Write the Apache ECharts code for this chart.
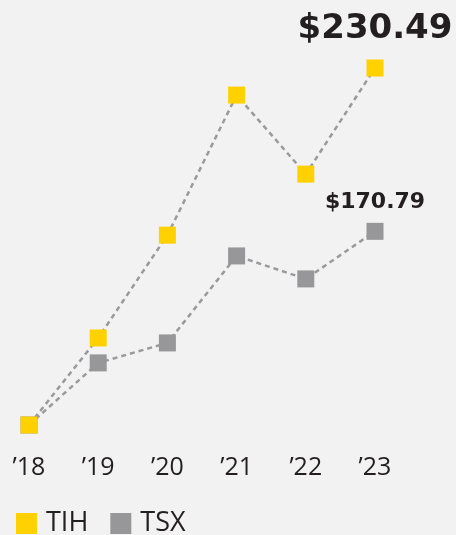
<!DOCTYPE html>
<html>
<head>
<meta charset="utf-8">
<script src="https://cdn.jsdelivr.net/npm/echarts@6/dist/echarts.min.js"></script>
<style>
  html, body { margin: 0; padding: 0; background: #f2f2f2; }
  #chart { width: 456px; height: 535px; }
</style>
</head>
<body>
<div id="chart"></div>
<script>
const years = ["’18", "’19", "’20", "’21", "’22", "’23"];
const tih = [100, 131.8, 169.4, 220.6, 191.7, 230.49];
const tsx = [100, 122.7, 130, 161.8, 153.4, 170.79];

const chart = echarts.init(document.getElementById('chart'));

const lastLabel = (size, dist) => ({
  show: true,
  position: 'top',
  distance: dist,
  fontFamily: 'DejaVu Sans',
  fontWeight: 'bold',
  fontSize: size,
  color: '#231f20',
  formatter: p => p.dataIndex === years.length - 1 ? '$' + p.value.toFixed(2) : ''
});

chart.setOption({
  backgroundColor: '#f2f2f2',
  animation: false,
  grid: { left: 29, right: 81, top: 42, bottom: 110 },
  legend: {
    left: 11, top: 505,
    itemWidth: 21, itemHeight: 21, itemGap: 22,
    icon: 'rect',
    textStyle: { fontFamily: 'Open Sans', fontSize: 27, color: '#231f20', padding: [0, 0, 0, 4] },
    data: ['TIH', 'TSX']
  },
  xAxis: {
    type: 'category',
    data: years,
    boundaryGap: false,
    axisLine: { show: false },
    axisTick: { show: false },
    axisLabel: { margin: 30, fontFamily: 'Open Sans', fontSize: 25, color: '#231f20' }
  },
  yAxis: {
    type: 'value',
    min: 100, max: 240,
    show: false,
    splitLine: { show: false }
  },
  series: [
    {
      name: 'TIH', type: 'line', data: tih,
      symbol: 'rect', symbolSize: 17,
      itemStyle: { color: '#ffd100' },
      lineStyle: { color: '#9a9a9c', width: 2.5, type: [5, 4] },
      label: lastLabel(34, 13),
      z: 3
    },
    {
      name: 'TSX', type: 'line', data: tsx,
      symbol: 'rect', symbolSize: 17,
      itemStyle: { color: '#97979a' },
      lineStyle: { color: '#9a9a9c', width: 2.5, type: [5, 4] },
      label: lastLabel(22, 10),
      z: 2
    }
  ]
});
</script>
</body>
</html>
